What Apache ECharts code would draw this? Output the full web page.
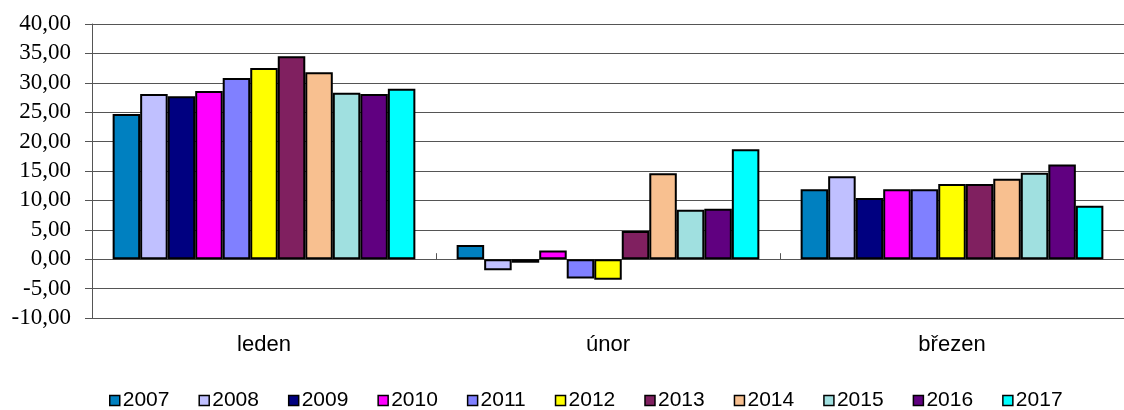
<!DOCTYPE html>
<html>
<head>
<meta charset="utf-8">
<script src="https://cdn.jsdelivr.net/npm/echarts@6/dist/echarts.min.js"></script>
<style>
  html, body { margin: 0; padding: 0; background: #fff; }
  #chart { width: 1124px; height: 410px; }
</style>
</head>
<body>
<div id="chart"></div>
<script>
const months = ['leden', 'únor', 'březen'];
const years = ['2007', '2008', '2009', '2010', '2011', '2012', '2013', '2014', '2015', '2016', '2017'];
// values per year: [leden, únor, březen]
const v2007 = [24.7, 2.4, 11.9];
const v2008 = [28.1, -1.9, 14.1];
const v2009 = [27.7, -0.6, 10.4];
const v2010 = [28.6, 1.5, 11.9];
const v2011 = [30.8, -3.3, 11.9];
const v2012 = [32.5, -3.5, 12.8];
const v2013 = [34.5, 4.8, 12.8];
const v2014 = [31.8, 14.6, 13.7];
const v2015 = [28.3, 8.4, 14.7];
const v2016 = [28.1, 8.6, 16.1];
const v2017 = [29.0, 18.7, 9.1];
const values = [v2007, v2008, v2009, v2010, v2011, v2012, v2013, v2014, v2015, v2016, v2017];
const colors = ['#0080C0', '#C0C0FF', '#000080', '#FF00FF', '#8080FF', '#FFFF00', '#802060', '#F8C090', '#A0E0E0', '#600080', '#00FFFF'];

const myChart = echarts.init(document.getElementById('chart'));

const series = years.map(function (y, i) {
    return {
        name: y,
        type: 'bar',
        xAxisIndex: 0,
        barGap: '0%',
        barCategoryGap: '12%',
        itemStyle: { color: colors[i], borderColor: '#000', borderWidth: 2 },
        data: values[i]
    };
});

const option = {
    animation: false,
    color: colors,
    grid: { left: 92, top: 24, width: 1042, height: 294, containLabel: false },
    legend: {
        top: 390,
        left: 109,
        padding: 0,
        icon: 'rect',
        itemWidth: 10,
        itemHeight: 10,
        itemGap: 29,
        itemStyle: { borderColor: '#000', borderWidth: 1.5 },
        textStyle: { fontFamily: 'Liberation Sans', fontSize: 21, color: '#000', padding: [2, 0, 0, -2] },
        data: years
    },
    xAxis: [
        {
            type: 'category',
            data: months,
            position: 'bottom',
            axisLine: { show: false, onZero: false },
            axisTick: { show: false },
            axisLabel: { fontFamily: 'Liberation Sans', fontSize: 22, color: '#000', margin: 16 }
        },
        {
            type: 'category',
            data: months,
            axisLine: { show: true, onZero: true, lineStyle: { color: '#555', width: 1 } },
            axisTick: { show: true, length: 6, lineStyle: { color: '#555' } },
            axisLabel: { show: false }
        }
    ],
    yAxis: {
        type: 'value',
        min: -10,
        max: 40,
        interval: 5,
        axisLine: { show: true, lineStyle: { color: '#555' } },
        axisTick: { show: true, length: 7, lineStyle: { color: '#555' } },
        splitLine: { lineStyle: { color: '#555', width: 1 } },
        axisLabel: {
            fontFamily: 'Liberation Serif',
            fontSize: 23,
            color: '#000',
            margin: 21,
            formatter: function (v) { return v.toFixed(2).replace('.', ','); }
        }
    },
    series: series
};
myChart.setOption(option);
</script>
</body>
</html>
